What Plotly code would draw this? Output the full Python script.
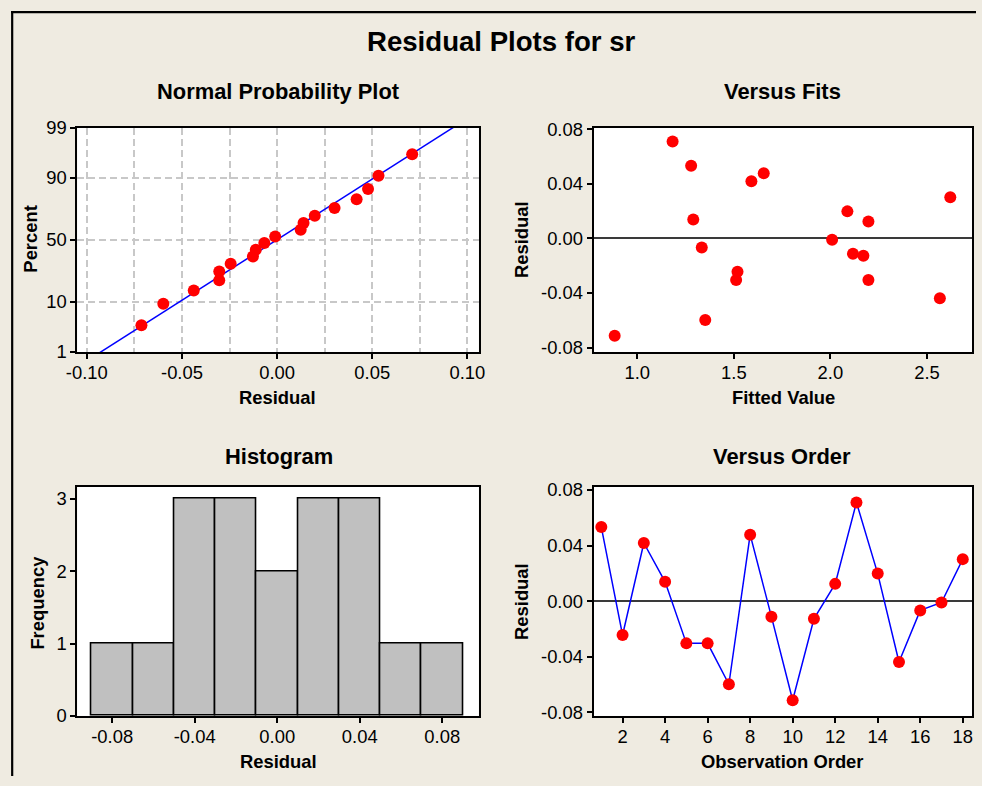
import plotly.graph_objects as go
from statistics import NormalDist, mean, stdev

# ---------------- data ----------------
observation = list(range(1, 19))
fitted = [1.279, 1.519, 1.591, 1.290, 1.512, 2.197, 1.352, 1.655, 2.117,
          0.883, 2.171, 2.197, 1.183, 2.088, 2.567, 1.334, 2.009, 2.621]
residual = [0.0533, -0.0244, 0.0418, 0.0139, -0.0304, -0.0304, -0.0598, 0.0478, -0.0112,
            -0.0713, -0.0127, 0.0124, 0.0710, 0.0198, -0.0438, -0.0067, -0.0010, 0.0302]

prob_x_ticks = [-0.10, -0.05, 0.00, 0.05, 0.10]
prob_x_labels = ["-0.10", "-0.05", "0.00", "0.05", "0.10"]
prob_percent_ticks = [1, 10, 50, 90, 99]
resid_ticks = [-0.08, -0.04, 0.00, 0.04, 0.08]
resid_labels = ["-0.08", "-0.04", "0.00", "0.04", "0.08"]
fit_ticks = [1.0, 1.5, 2.0, 2.5]
fit_labels = ["1.0", "1.5", "2.0", "2.5"]
order_ticks = [2, 4, 6, 8, 10, 12, 14, 16, 18]
freq_ticks = [0, 1, 2, 3]

# ---------------- derived (normal probability) ----------------
nd = NormalDist()
n = len(residual)
sorted_res = sorted(residual)
z_pts = [nd.inv_cdf((i - 0.3) / (n + 0.4)) for i in range(1, n + 1)]
mu, sd = mean(residual), stdev(residual)
z_line = [-3.0, 3.0]
x_line = [mu + z * sd for z in z_line]
z_ticks = [nd.inv_cdf(p / 100) for p in prob_percent_ticks]

FONT = "Liberation Sans Narrow, Arial Narrow, Liberation Sans, Arial, sans-serif"
RED = "#FF0000"
BLUE = "#0000FF"
BG = "#EFEBE1"

W, H = 982, 786
# the photographed page shows the figure slightly inset/scaled; place items by target pixel
SX, OX, SY, OY = 0.984, 10.6, 0.976, 9.1
def px(x): return min(max(((x - OX) / SX) / W, 0), 1)
def py(y): return min(max(1 - ((y - OY) / SY) / H, 0), 1)
def fs(s): return round(s / 0.98, 1)

fig = go.Figure()

# Normal probability plot
fig.add_trace(go.Scatter(x=x_line, y=z_line, mode="lines",
                         line=dict(color=BLUE, width=1.5), xaxis="x", yaxis="y",
                         showlegend=False, hoverinfo="skip"))
fig.add_trace(go.Scatter(x=sorted_res, y=z_pts, mode="markers",
                         marker=dict(color=RED, size=12), xaxis="x", yaxis="y",
                         showlegend=False))
# Versus fits
fig.add_trace(go.Scatter(x=fitted, y=residual, mode="markers",
                         marker=dict(color=RED, size=12), xaxis="x2", yaxis="y2",
                         showlegend=False))
# Histogram
fig.add_trace(go.Histogram(x=residual, xbins=dict(start=-0.09, end=0.09, size=0.02),
                           autobinx=False,
                           marker=dict(color="#C0C0C0", line=dict(color="black", width=1.6)),
                           xaxis="x3", yaxis="y3", showlegend=False))
# Versus order
fig.add_trace(go.Scatter(x=observation, y=residual, mode="lines+markers",
                         line=dict(color=BLUE, width=1.5),
                         marker=dict(color=RED, size=12), xaxis="x4", yaxis="y4",
                         showlegend=False))

tickfont = dict(family=FONT, size=fs(18), color="black")
base = dict(showline=True, linecolor="black", linewidth=2, mirror=True,
            ticks="outside", ticklen=5, tickwidth=1.5, tickcolor="black",
            tickfont=tickfont, showgrid=False, zeroline=False, fixedrange=True)
xbase = dict(base, ticklabelstandoff=-2)

dom_left = [px(77), px(479)]
dom_right = [px(594), px(973)]
dom_top = [py(351), py(126)]
dom_bot = [py(716), py(486)]

grid = dict(gridcolor="#C8C8C8", gridwidth=1.5, griddash="7px,4px")

fig.update_layout(
    width=W, height=H, margin=dict(l=0, r=0, t=0, b=0),
    paper_bgcolor=BG, plot_bgcolor="white",
    bargap=0, showlegend=False,
    font=dict(family=FONT, color="black"),
    xaxis=dict(**xbase, domain=dom_left, anchor="y", range=[-0.105, 0.106],
               tickmode="array", tickvals=prob_x_ticks, ticktext=prob_x_labels,
               minor=dict(dtick=0.025, tick0=0, showgrid=True, ticks="", **grid)),
    yaxis=dict(**{**base, "showgrid": True}, **grid, domain=dom_top, anchor="x",
               range=[z_ticks[0], z_ticks[-1]],
               tickmode="array", tickvals=z_ticks, ticktext=[str(p) for p in prob_percent_ticks]),
    xaxis2=dict(**xbase, domain=dom_right, anchor="y2", range=[0.774, 2.734],
                tickmode="array", tickvals=fit_ticks, ticktext=fit_labels),
    yaxis2=dict(**{**base, "zeroline": True}, zerolinecolor="#3A3A3A", zerolinewidth=1.6,
                domain=dom_top, anchor="x2", range=[-0.0832, 0.0812],
                tickmode="array", tickvals=resid_ticks, ticktext=resid_labels),
    xaxis3=dict(**xbase, domain=dom_left, anchor="y3", range=[-0.0969, 0.0977],
                tickmode="array", tickvals=resid_ticks, ticktext=resid_labels),
    yaxis3=dict(**base, domain=dom_bot, anchor="x3", range=[0, 3.17],
                tickmode="array", tickvals=freq_ticks, ticktext=[str(v) for v in freq_ticks]),
    xaxis4=dict(**xbase, domain=dom_right, anchor="y4", range=[0.638, 18.44],
                tickmode="array", tickvals=order_ticks, ticktext=[str(v) for v in order_ticks]),
    yaxis4=dict(**{**base, "zeroline": True}, zerolinecolor="#3A3A3A", zerolinewidth=1.6,
                domain=dom_bot, anchor="x4", range=[-0.0826, 0.0824],
                tickmode="array", tickvals=resid_ticks, ticktext=resid_labels),
)

def label(text, x, y, size, angle=0):
    fig.add_annotation(text="<b>%s</b>" % text, x=px(x), y=py(y), xref="paper", yref="paper",
                       showarrow=False, textangle=angle, xanchor="center", yanchor="middle",
                       font=dict(family=FONT, size=fs(size), color="black"))

label("Residual Plots for sr", 502, 40, 27)
label("Normal Probability Plot", 278, 90, 21.5)
label("Versus Fits", 783, 90, 21.5)
label("Histogram", 279, 456, 21.5)
label("Versus Order", 783, 456, 21.5)
label("Residual", 277, 397, 18)
label("Percent", 30, 238, 18, -90)
label("Fitted Value", 784, 397, 18)
label("Residual", 522, 238, 18, -90)
label("Frequency", 37, 602, 18, -90)
label("Residual", 278, 762, 18)
label("Residual", 522, 601, 18, -90)
label("Observation Order", 783, 762, 18)

# frame lines of the window (left and top)
fig.add_shape(type="line", xref="paper", yref="paper", x0=1.2 / W, x1=1.2 / W, y0=0, y1=1 - 1.2 / H,
              line=dict(color="black", width=2.2))
fig.add_shape(type="line", xref="paper", yref="paper", x0=0, x1=1, y0=1 - 1.2 / H, y1=1 - 1.2 / H,
              line=dict(color="black", width=2.2))

page_fix = (
    "document.head.insertAdjacentHTML('beforeend',"
    "'<style>html,body{margin:0!important;padding:0!important;overflow:hidden!important;"
    "background:" + BG + ";}</style>');"
)

fig.write_html("out.html", config={"displayModeBar": False}, post_script=page_fix)
